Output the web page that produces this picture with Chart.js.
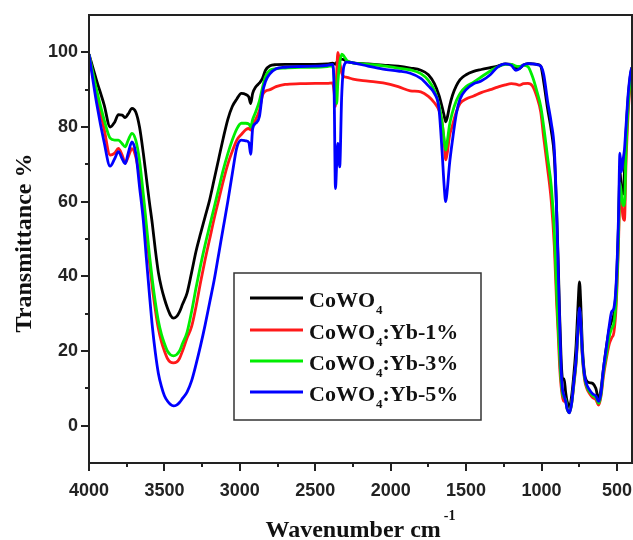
<!DOCTYPE html>
<html>
<head>
<meta charset="utf-8">
<script src="https://cdn.jsdelivr.net/npm/chart.js@4.4.1/dist/chart.umd.min.js"></script>
<style>
  html, body { margin: 0; padding: 0; background: #fff; }
  #wrap { width: 633px; height: 540px; position: relative; }
</style>
</head>
<body>
<div id="wrap"><canvas id="c"></canvas></div>
<script>
// wavenumber grid (cm-1) shared by all four spectra
const wavenumbers = [
  4000, 3950, 3900, 3860, 3830, 3805, 3780, 3760, 3740, 3715,
  3690, 3665, 3640, 3620, 3600, 3580, 3560, 3540, 3520, 3500,
  3480, 3460, 3440, 3420, 3400, 3380, 3350, 3320, 3290, 3260,
  3230, 3200, 3170, 3140, 3110, 3080, 3050, 3020, 2990, 2960,
  2940, 2928, 2915, 2895, 2870, 2850, 2830, 2800, 2760, 2700,
  2600, 2500, 2420, 2385, 2375, 2366, 2358, 2350, 2338, 2325,
  2310, 2290, 2250, 2150, 2050, 1950, 1870, 1800, 1750, 1710,
  1680, 1660, 1645, 1635, 1625, 1610, 1590, 1565, 1540, 1500,
  1450, 1400, 1340, 1290, 1240, 1200, 1170, 1150, 1120, 1090,
  1060, 1030, 1005, 985, 960, 935, 915, 900, 890, 880,
  870, 860, 850, 840, 830, 815, 800, 785, 770, 757,
  748, 740, 730, 715, 700, 680, 660, 640, 620, 605,
  590, 570, 550, 535, 520, 505, 490, 480, 470, 460,
  450, 440, 425, 410, 400
];

const tCoWO4 = [
  99.5, 92.5, 86, 80, 81.3, 83.3, 83.2, 82.5, 83.5, 85,
  84, 80, 73, 66.5, 60, 54, 47, 41, 37, 34,
  31.5, 29.6, 28.8, 29.2, 30.5, 32.5, 35.5, 41, 46.8, 51.5,
  56, 60.5, 66, 71.5, 77, 82, 85.5, 87.5, 89, 88.7,
  88, 86.3, 89, 90.7, 91.8, 93, 95.2, 96.4, 96.7, 96.8,
  96.8, 96.8, 96.9, 97.1, 97, 96.8, 97.3, 97.8, 98, 98.2,
  98, 97.6, 97.2, 96.9, 96.6, 96.3, 95.8, 95.2, 94, 91.6,
  88.5, 85.5, 83, 81.4, 82.5, 85.5, 88.5, 91, 92.7, 94,
  94.9, 95.4, 95.9, 96.3, 96.9, 96.8, 95.8, 95.6, 96.6, 97,
  96.9, 96.8, 96.3, 92, 85, 79, 72, 58, 45, 30,
  18, 12.5, 12.5, 9, 6.5, 5, 8, 14, 22, 33,
  38.5, 33, 22, 14, 12, 11.5, 11.3, 10, 7, 10,
  15, 21, 26, 28, 30, 37, 53, 68, 63, 62,
  68, 78, 88, 94, 96
];

const tYb1 = [
  99.5, 88.5, 79.5, 72.5, 73, 74.3, 72.5, 70.4, 72, 74.2,
  72, 67, 60.5, 52, 44, 37, 31, 26, 22.5, 20,
  18, 17, 16.8, 17, 18, 20, 23.5, 26.5, 32, 38.5,
  44.5, 50, 55.5, 60.5, 65.5, 70, 73.5, 76.5, 78, 79.3,
  79.6, 79.2, 80.8, 82, 84.5, 88.5, 89.6, 90, 90.8, 91.4,
  91.6, 91.7, 91.7, 91.8, 89.5, 85.5, 94, 100, 97.5, 94.5,
  93.5, 93.3, 92.8, 92.3, 91.8, 90.8, 89.7, 89.4, 88.2, 86.5,
  84.5, 81.5, 76, 71.2, 73, 77.5, 80.5, 84, 86.3, 87.5,
  88.3, 89.2, 90, 90.7, 91.3, 91.6, 91.5, 91.2, 91.6, 91.7,
  91, 88, 84, 77, 69, 60, 48, 33, 25, 16,
  10.5, 7.5, 6.5, 6.5, 4.5, 3.5, 6, 11, 17, 26,
  31, 27, 19, 12.5, 10, 8.5, 7.5, 7, 5.5, 8,
  13, 18, 22, 23.5, 25, 32, 48, 62, 60, 56,
  55, 70, 84, 92, 94.5
];

const tYb3 = [
  99.5, 90, 82, 77, 76.5, 76.5, 75.5, 74.7, 76.5, 78.3,
  76.5, 71, 62, 54, 46, 39, 33, 28, 24.5, 22,
  20, 19, 18.7, 19, 20, 22, 25, 30.5, 37, 43,
  48.5, 53.5, 58.5, 63.5, 68.5, 72.8, 76.5, 79.5, 81, 81,
  80.8, 80, 82, 84, 87, 90.5, 93.5, 95.2, 95.6, 95.8,
  96, 96, 96.2, 96.4, 93.5, 88, 86.3, 92, 97, 99.5,
  99, 97.8, 97.2, 96.8, 96.4, 95.8, 95.3, 94.3, 92.5, 89.8,
  86, 81.5, 76.5, 73.8, 76, 80.5, 84, 87, 89, 90.8,
  92, 93.4, 95, 96.1, 96.8, 96.8, 96.3, 96.2, 96.5, 96.2,
  93.5, 89.5, 85.5, 80, 72, 64, 52, 36, 27, 19,
  12, 8.5, 7.5, 7, 4.5, 3.5, 6, 11.5, 17.5, 26.5,
  31, 27.5, 19.5, 13, 10.5, 9, 8, 7.5, 6, 8.5,
  14, 19, 24, 26, 27.5, 34, 50, 65, 62, 59,
  59, 73, 86, 93, 95.5
];

const tYb5 = [
  99.5, 86.5, 76, 69.5, 71.5, 73.4, 71.5, 70.2, 73, 76,
  73, 64, 55, 45, 35.5, 26.5, 19.5, 14, 10.5, 8,
  6.6, 5.7, 5.3, 5.5, 6.2, 7.3, 9, 12, 16.5, 21.5,
  27, 33, 39, 46, 53, 60, 67.5, 74.5, 76.5, 76.3,
  75.8, 72.7, 79.5, 81, 82.8, 89, 92.2, 94.3, 95.6, 96,
  96.2, 96.3, 96.5, 96.8, 90, 63.5, 70, 75.6, 69.3, 88,
  96.3, 97.4, 97.2, 96.3, 95.5, 95, 94.4, 93, 91, 89,
  85, 74, 64, 60, 63, 70, 76.5, 83.5, 87.5, 90,
  91.6, 92.3, 94, 96.1, 96.9, 96.5, 95.2, 95.5, 96.6, 97,
  96.9, 96.7, 96.3, 94, 87, 81, 74, 58, 43, 28,
  15, 9.5, 8, 6.5, 4.5, 3.4, 6, 12, 18, 27,
  31.5, 28, 20, 13.5, 11, 9.5, 8.5, 8, 6.5, 9,
  15, 21, 27, 30.5, 31.5, 38, 55, 73, 68, 71,
  74, 80, 89, 94.5, 96
];

const seriesNames = ['CoWO₄', 'CoWO₄:Yb-1%', 'CoWO₄:Yb-3%', 'CoWO₄:Yb-5%'];
const seriesColors = ['#000000', '#ff1a1a', '#00ee00', '#0000ff'];
const seriesValues = [tCoWO4, tYb1, tYb3, tYb5];

const xTicks = [4000, 3500, 3000, 2500, 2000, 1500, 1000, 500];
const xMinor = [3750, 3250, 2750, 2250, 1750, 1250, 750];
const yTicks = [0, 20, 40, 60, 80, 100];
const yMinor = [10, 30, 50, 70, 90];

const xTitle = 'Wavenumber cm';
const xTitleSup = '-1';
const yTitle = 'Transmittance %';

const serif = '"Liberation Serif", "Times New Roman", serif';
const sans = '"Liberation Sans", Arial, sans-serif';

const decor = {
  id: 'decor',
  afterDatasetsDraw(chart) {
    const { ctx, chartArea: a, scales } = chart;
    ctx.save();

    // frame box
    ctx.strokeStyle = '#222';
    ctx.lineWidth = 2;
    ctx.strokeRect(a.left, a.top, a.right - a.left, a.bottom - a.top);

    // minor ticks
    ctx.beginPath();
    xMinor.forEach(v => {
      const x = Math.round(scales.x.getPixelForValue(v));
      ctx.moveTo(x, a.bottom); ctx.lineTo(x, a.bottom + 4);
    });
    yMinor.forEach(v => {
      const y = Math.round(scales.y.getPixelForValue(v));
      ctx.moveTo(a.left, y); ctx.lineTo(a.left - 4, y);
    });
    ctx.stroke();

    // axis titles
    ctx.fillStyle = '#111';
    ctx.font = 'bold 24px ' + serif;
    const mainW = ctx.measureText(xTitle).width;
    ctx.font = 'bold 14px ' + serif;
    const supW = ctx.measureText(xTitleSup).width;
    const cx = (a.left + a.right) / 2;
    const x0 = cx - (mainW + supW + 3) / 2;
    ctx.textBaseline = 'alphabetic';
    ctx.textAlign = 'left';
    ctx.font = 'bold 24px ' + serif;
    ctx.fillText(xTitle, x0, 537);
    ctx.font = 'bold 14px ' + serif;
    ctx.fillText(xTitleSup, x0 + mainW + 3, 520);

    ctx.save();
    ctx.translate(31, (a.top + a.bottom) / 2 + 4);
    ctx.rotate(-Math.PI / 2);
    ctx.textAlign = 'center';
    ctx.font = 'bold 24px ' + serif;
    ctx.fillText(yTitle, 0, 0);
    ctx.restore();

    // legend
    const bx = 234, by = 273, bw = 247, bh = 147;
    ctx.fillStyle = '#fff';
    ctx.fillRect(bx, by, bw, bh);
    ctx.strokeStyle = '#333';
    ctx.lineWidth = 1.5;
    ctx.strokeRect(bx, by, bw, bh);
    const rows = [298, 330, 361, 392];
    chart.data.datasets.forEach((ds, i) => {
      const ry = rows[i];
      ctx.strokeStyle = ds.borderColor;
      ctx.lineWidth = 3;
      ctx.beginPath();
      ctx.moveTo(250, ry); ctx.lineTo(303, ry);
      ctx.stroke();
      const parts = ds.label.split('₄');
      ctx.fillStyle = '#111';
      ctx.textAlign = 'left';
      let tx = 309;
      ctx.font = 'bold 22px ' + serif;
      ctx.fillText(parts[0], tx, ry + 9);
      tx += ctx.measureText(parts[0]).width + 1;
      ctx.font = 'bold 13px ' + serif;
      ctx.fillText('4', tx, ry + 16);
      tx += ctx.measureText('4').width;
      ctx.font = 'bold 22px ' + serif;
      if (parts[1]) ctx.fillText(parts[1], tx, ry + 9);
    });

    ctx.restore();
  }
};

const datasets = seriesValues.map((vals, i) => ({
  label: seriesNames[i],
  data: wavenumbers.map((w, j) => ({ x: w, y: vals[j] })),
  borderColor: seriesColors[i],
  borderWidth: 2.8,
  pointRadius: 0,
  cubicInterpolationMode: 'monotone',
  fill: false,
  order: 4 - i
}));

new Chart(document.getElementById('c'), {
  type: 'line',
  data: { datasets },
  options: {
    animation: false,
    responsive: true,
    maintainAspectRatio: false,
    layout: { padding: { top: 15, right: 1, left: 0, bottom: 0 } },
    plugins: { legend: { display: false }, tooltip: { enabled: false } },
    scales: {
      x: {
        type: 'linear',
        reverse: true,
        min: 400,
        max: 4000,
        afterBuildTicks: s => { s.ticks = xTicks.map(v => ({ value: v })); },
        afterFit: s => { s.height = 77; s.paddingLeft = 0; s.paddingRight = 0; },
        grid: { drawOnChartArea: false, drawTicks: true, tickLength: 8, color: '#222', lineWidth: 2 },
        border: { display: false },
        ticks: { color: '#222', font: { family: sans, size: 18, weight: 'bold' }, padding: 9, maxRotation: 0, callback: v => String(v) }
      },
      y: {
        min: -10,
        max: 110,
        afterBuildTicks: s => { s.ticks = yTicks.map(v => ({ value: v })); },
        afterFit: s => { s.width = 89; s.paddingTop = 0; s.paddingBottom = 0; },
        grid: { drawOnChartArea: false, drawTicks: true, tickLength: 8, color: '#222', lineWidth: 2 },
        border: { display: false },
        ticks: { color: '#222', font: { family: sans, size: 18, weight: 'bold' }, padding: 3, callback: v => String(v) }
      }
    }
  },
  plugins: [decor]
});
</script>
</body>
</html>
